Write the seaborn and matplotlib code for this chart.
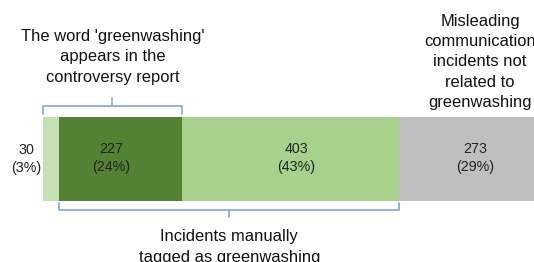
import numpy as np
import pandas as pd
import matplotlib.pyplot as plt
import seaborn as sns

# Incident breakdown (single stacked bar)
segments = ["Keyword only", "Keyword and tagged", "Tagged only", "Not greenwashing"]
counts = [30, 227, 403, 273]
percents = [3, 24, 43, 29]
colors = ["#c5e0b4", "#548235", "#a9d18e", "#bfbfbf"]

top_note = "The word 'greenwashing'\nappears in the\ncontroversy report"
bottom_note = "Incidents manually\ntagged as greenwashing"
right_note = "Misleading\ncommunication\nincidents not\nrelated to\ngreenwashing"

sns.set_theme(style="white")
plt.rcParams['font.family'] = ['Liberation Sans', 'DejaVu Sans']

fig = plt.figure(figsize=(5.34, 2.62), dpi=100)
ax = fig.add_axes([0, 0, 1, 1])

starts = np.concatenate([[0], np.cumsum(counts)[:-1]])
ends = np.cumsum(counts)

# stacked bar: draw cumulative totals from the longest to the shortest
for i in reversed(range(len(segments))):
    df = pd.DataFrame({"row": ["all"], "end": [ends[i]]})
    sns.barplot(data=df, x="end", y="row", orient="h", color=colors[i],
                saturation=1, width=0.8, linewidth=0, ax=ax)

# pixel <-> data helpers (bar starts at px 43, 0.54 px per incident)
def px_x(px):
    return (px - 43) / 0.54

def px_y(py):
    return (py - 159) / 105.0

ax.set_xlim(px_x(0), px_x(534))
ax.set_ylim(px_y(262), px_y(0))
ax.set_axis_off()

# value labels
label_dx = [0, -9, 6, 2]
for i in range(len(segments)):
    txt = f"{counts[i]}\n({percents[i]}%)"
    if i == 0:
        ax.text(px_x(26), px_y(159), txt, ha="center", va="center",
                fontsize=10.3, color="#222222", linespacing=1.35)
    else:
        cx = (starts[i] + ends[i]) / 2 + label_dx[i] / 0.54
        ax.text(cx, px_y(158), txt, ha="center", va="center",
                fontsize=10.3, color="#222222", linespacing=1.35)

bracket_color = "#8faadc"

# top bracket over the keyword segments
x0, x1 = starts[0], ends[1]
yb, ye, yt = px_y(106), px_y(114), px_y(98)
ax.plot([x0, x0, x1, x1], [ye, yb, yb, ye], color=bracket_color, lw=1.3,
        solid_joinstyle="round")
ax.plot([(x0 + x1) / 2] * 2, [yb, yt], color=bracket_color, lw=1.3)
ax.text((x0 + x1) / 2, px_y(57), top_note, ha="center", va="center",
        fontsize=11.9, color="#111111", linespacing=1.42)

# bottom bracket under the manually tagged segments
x0, x1 = starts[1], ends[2]
yb, ye, yt = px_y(210), px_y(203), px_y(217)
ax.plot([x0, x0, x1, x1], [ye, yb, yb, ye], color=bracket_color, lw=1.3,
        solid_joinstyle="round")
ax.plot([(x0 + x1) / 2] * 2, [yb, yt], color=bracket_color, lw=1.3)
ax.text((x0 + x1) / 2, px_y(247), bottom_note, ha="center", va="center",
        fontsize=11.9, color="#111111", linespacing=1.42)

# note above the grey segment
ax.text(px_x(480), px_y(62), right_note, ha="center", va="center",
        fontsize=11.9, color="#111111", linespacing=1.42)

fig.savefig("out.png", dpi=100)
plt.close(fig)
